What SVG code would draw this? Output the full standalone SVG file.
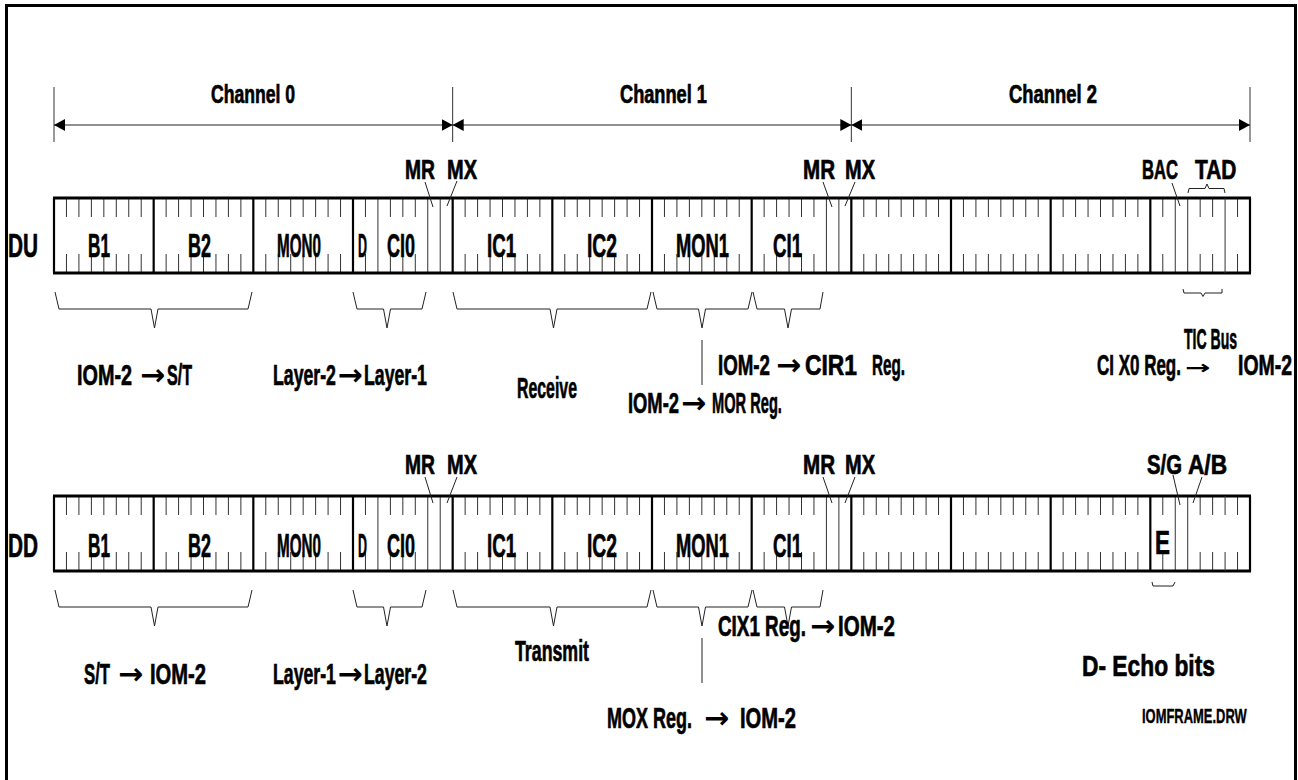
<svg xmlns="http://www.w3.org/2000/svg" xmlns:xlink="http://www.w3.org/1999/xlink" width="1298" height="780" viewBox="0 0 1298 780">
<style>
.frame{fill:none;stroke:#000;stroke-width:3}
.edge{stroke:#000;stroke-width:3;fill:none}
.byte{stroke:#000;stroke-width:2.2;fill:none}
.tick{stroke:#333;stroke-width:1;fill:none}
.thin{stroke:#222;stroke-width:1;fill:none}
.t{font-family:"Liberation Sans",Arial,sans-serif;font-weight:bold;fill:#000;stroke:#000;stroke-width:0.7}
.ar{font-family:"DejaVu Sans",sans-serif;font-weight:bold;font-size:30px;fill:#000}
.f1{font-size:25px}
.f2{font-size:33px}
.f3{font-size:27px}
.f4{font-size:30px}
.f5{font-size:21px;stroke-width:0.4}
</style>
<defs>
<marker id="ah" viewBox="0 0 11 12" refX="11" refY="6" markerWidth="11" markerHeight="12" markerUnits="userSpaceOnUse" orient="auto-start-reverse"><path d="M0 0L11 6L0 12z" fill="#000"/></marker>
<path id="bt" class="tick" d="M12.46 0v19M24.92 0v19M37.38 0v19M49.83 0v19M62.29 0v19M74.75 0v19M87.21 0v19M12.46 56v19M24.92 56v19M37.38 56v19M49.83 56v19M62.29 56v19M74.75 56v19M87.21 56v19"/>
<g id="rowbase">
<use xlink:href="#bt" href="#bt" x="54"/>
<use xlink:href="#bt" href="#bt" x="153.67"/>
<use xlink:href="#bt" href="#bt" x="253.33"/>
<use xlink:href="#bt" href="#bt" x="452.67"/>
<use xlink:href="#bt" href="#bt" x="552.33"/>
<use xlink:href="#bt" href="#bt" x="652"/>
<use xlink:href="#bt" href="#bt" x="851.33"/>
<use xlink:href="#bt" href="#bt" x="951"/>
<use xlink:href="#bt" href="#bt" x="1050.67"/>
<path class="tick" d="M365.46 0v19M365.46 56v19M390.38 0v19M390.38 56v19M402.83 0v19M402.83 56v19M415.29 0v19M415.29 56v19M764.13 0v19M764.13 56v19M776.58 0v19M776.58 56v19M789.04 0v19M789.04 56v19M801.5 0v19M801.5 56v19M813.96 0v19M813.96 56v19M1162.79 0v19M1162.79 56v19M1200.17 0v19M1200.17 56v19M1212.63 0v19M1212.63 56v19M1237.54 0v19M1237.54 56v19"/>
<path class="tick" d="M377.92 0V75M427.75 0V75M440.21 0V75M826.42 0V75M838.88 0V75M1175.25 0V75M1187.71 0V75"/>
<path class="byte" d="M54 0V75M153.67 0V75M253.33 0V75M353 0V75M452.67 0V75M552.33 0V75M652 0V75M751.67 0V75M851.33 0V75M951 0V75M1050.67 0V75M1150.33 0V75M1250 0V75"/>
<path class="edge" d="M53 0H1251M53 75H1251"/>
</g>
</defs>
<rect class="frame" x="6.5" y="5.5" width="1289" height="800"/>

<g id="channels">
<text class="t f1" transform="translate(211 103) scale(0.703 1)">Channel 0</text>
<text class="t f1" transform="translate(620 103) scale(0.728 1)">Channel 1</text>
<text class="t f1" transform="translate(1009 103) scale(0.736 1)">Channel 2</text>
</g>

<g id="du-row">
<g transform="translate(0,198)">
<use xlink:href="#rowbase" href="#rowbase"/>
<path class="tick" d="M1225.08 0V75"/>
</g>
<text class="t f2" transform="translate(8 257) scale(0.63 1)">DU</text>
<text class="t f2" transform="translate(88 257) scale(0.522 1)">B1</text>
<text class="t f2" transform="translate(188 257) scale(0.545 1)">B2</text>
<text class="t f2" transform="translate(277 257) scale(0.4615 1)">MON0</text>
<text class="t f2" transform="translate(358 257) scale(0.378 1)">D</text>
<text class="t f2" transform="translate(387 257) scale(0.545 1)">CI0</text>
<text class="t f2" transform="translate(487 257) scale(0.565 1)">IC1</text>
<text class="t f2" transform="translate(587 257) scale(0.584 1)">IC2</text>
<text class="t f2" transform="translate(676 257) scale(0.556 1)">MON1</text>
<text class="t f2" transform="translate(773 257) scale(0.565 1)">CI1</text>
<text class="t f3" transform="translate(405 179) scale(0.714 1)">MR</text>
<text class="t f3" transform="translate(447 179) scale(0.741 1)">MX</text>
<text class="t f3" transform="translate(803 179) scale(0.762 1)">MR</text>
<text class="t f3" transform="translate(845 179) scale(0.741 1)">MX</text>
<text class="t f3" transform="translate(1142 179) scale(0.616 1)">BAC</text>
<text class="t f3" transform="translate(1195 179) scale(0.775 1)">TAD</text>
</g>

<g id="dd-row">
<g transform="translate(0,496)">
<use xlink:href="#rowbase" href="#rowbase"/>
<path class="tick" d="M1225.08 0v19M1225.08 56v19"/>
</g>
<text class="t f2" transform="translate(8 557) scale(0.63 1)">DD</text>
<text class="t f2" transform="translate(88 557) scale(0.522 1)">B1</text>
<text class="t f2" transform="translate(188 557) scale(0.545 1)">B2</text>
<text class="t f2" transform="translate(277 557) scale(0.4615 1)">MON0</text>
<text class="t f2" transform="translate(358 557) scale(0.378 1)">D</text>
<text class="t f2" transform="translate(387 557) scale(0.545 1)">CI0</text>
<text class="t f2" transform="translate(487 557) scale(0.565 1)">IC1</text>
<text class="t f2" transform="translate(587 557) scale(0.584 1)">IC2</text>
<text class="t f2" transform="translate(676 557) scale(0.556 1)">MON1</text>
<text class="t f2" transform="translate(773 557) scale(0.565 1)">CI1</text>
<text class="t f2" transform="translate(1155 554) scale(0.68 1)">E</text>
<text class="t f3" transform="translate(405 474) scale(0.714 1)">MR</text>
<text class="t f3" transform="translate(447 474) scale(0.741 1)">MX</text>
<text class="t f3" transform="translate(803 474) scale(0.762 1)">MR</text>
<text class="t f3" transform="translate(845 474) scale(0.741 1)">MX</text>
<text class="t f3" transform="translate(1147 474) scale(0.752 1)">S/G</text>
<text class="t f3" transform="translate(1188 474) scale(0.839 1)">A/B</text>
</g>

<g id="connectors">
<path class="tick" d="M54 87V142M452.67 87V142M851.33 87V142M1250 87V142"/>
<path class="thin" d="M54 125H452.67" marker-start="url(#ah)" marker-end="url(#ah)"/>
<path class="thin" d="M452.67 125H851.33" marker-start="url(#ah)" marker-end="url(#ah)"/>
<path class="thin" d="M851.33 125H1250" marker-start="url(#ah)" marker-end="url(#ah)"/>
<path class="thin" d="M425 182L433 207M457 181L447 206M823 182L832 207M855 182L845 206M1172 183L1180 206"/>
<path class="thin" d="M1188 193L1189 188.5H1205L1207 184L1209 188.5H1224L1225 193"/>
<path class="thin" d="M425 477L433 503M457 477L447 503M823 477L832 503M855 477L845 503M1173 475L1180 505M1202 477L1193 503"/>
<path class="thin" d="M55 292L59 309H151L154.5 328L158 309H248L252 292M353 292L357 309H383.5L387 328L390.5 309H422L426 292M453 292L457 309H550L553.5 328L557 309H647L651 292M653 292L657 309H698.5L702 328L705.5 309H748L752 292M753 292L757 309H784.5L788 328L791.5 309H820L823 292"/>
<path class="thin" d="M702 340V385"/>
<path class="thin" d="M1183 289L1184 293H1201L1203 296.5L1205 293H1222L1222 289"/>
<path class="thin" d="M55 590L59 607H151L154.5 626L158 607H248L252 590M353 590L357 607H383.5L387 626L390.5 607H422L426 590M453 590L457 607H550L553.5 626L557 607H647L651 590M653 590L657 607H698.5L702 626L705.5 607H748L752 590M753 590L757 607H784.5L788 626L791.5 607H820L823 590"/>
<path class="thin" d="M702 638V683"/>
<path class="thin" d="M1152 582L1153 586H1173L1175 582"/>
</g>

<g id="du-notes">
<g id="n-iom-st">
<text class="t f4" transform="translate(77 385) scale(0.66 1)">IOM-2</text>
<text class="ar" x="140" y="385">→</text>
<text class="t f4" transform="translate(167 385) scale(0.536 1)">S/T</text>
</g>
<g id="n-l2-l1">
<text class="t f4" transform="translate(273 385) scale(0.59 1)">Layer-2</text>
<text class="ar" x="337.5" y="385">→</text>
<text class="t f4" transform="translate(364 385) scale(0.59 1)">Layer-1</text>
</g>
<text class="t f4" transform="translate(517 398) scale(0.529 1)">Receive</text>
<g id="n-cir1">
<text class="t f4" transform="translate(718 375) scale(0.624 1)">IOM-2</text>
<text class="ar" x="776" y="375">→</text>
<text class="t f4" transform="translate(805 375) scale(0.761 1)">CIR1</text>
<text class="t f4" transform="translate(872 375) scale(0.508 1)">Reg.</text>
</g>
<g id="n-mor">
<text class="t f4" transform="translate(628 413) scale(0.612 1)">IOM-2</text>
<text class="ar" x="681" y="413">→</text>
<text class="t f4" transform="translate(712 413) scale(0.488 1)">MOR Reg.</text>
</g>
<text class="t f4" transform="translate(1184 349) scale(0.468 1)">TIC Bus</text>
<g id="n-cix0">
<text class="t f4" transform="translate(1097 375) scale(0.566 1)">CI X0 Reg.</text>
<text class="ar" transform="translate(1185 374) scale(1.6 1)" style="font-size:19px">→</text>
<text class="t f4" transform="translate(1238 375) scale(0.648 1)">IOM-2</text>
</g>
</g>

<g id="dd-notes">
<g id="n-st-iom">
<text class="t f4" transform="translate(84 684) scale(0.557 1)">S/T</text>
<text class="ar" x="118" y="684">→</text>
<text class="t f4" transform="translate(150 684) scale(0.672 1)">IOM-2</text>
</g>
<g id="n-l1-l2">
<text class="t f4" transform="translate(273 684) scale(0.59 1)">Layer-1</text>
<text class="ar" x="337.5" y="684">→</text>
<text class="t f4" transform="translate(364 684) scale(0.59 1)">Layer-2</text>
</g>
<text class="t f4" transform="translate(515 661) scale(0.592 1)">Transmit</text>
<g id="n-cix1">
<text class="t f4" transform="translate(718 636) scale(0.628 1)">CIX1 Reg.</text>
<text class="ar" x="810" y="636">→</text>
<text class="t f4" transform="translate(838 636) scale(0.684 1)">IOM-2</text>
</g>
<g id="n-mox">
<text class="t f4" transform="translate(607 728) scale(0.6 1)">MOX Reg.</text>
<text class="ar" x="704" y="728">→</text>
<text class="t f4" transform="translate(740 728) scale(0.672 1)">IOM-2</text>
</g>
<text class="t f4" transform="translate(1082 676) scale(0.76 1)">D- Echo bits</text>
<text class="t f5" transform="translate(1142 723) scale(0.6165 1)">IOMFRAME.DRW</text>
</g>
</svg>
